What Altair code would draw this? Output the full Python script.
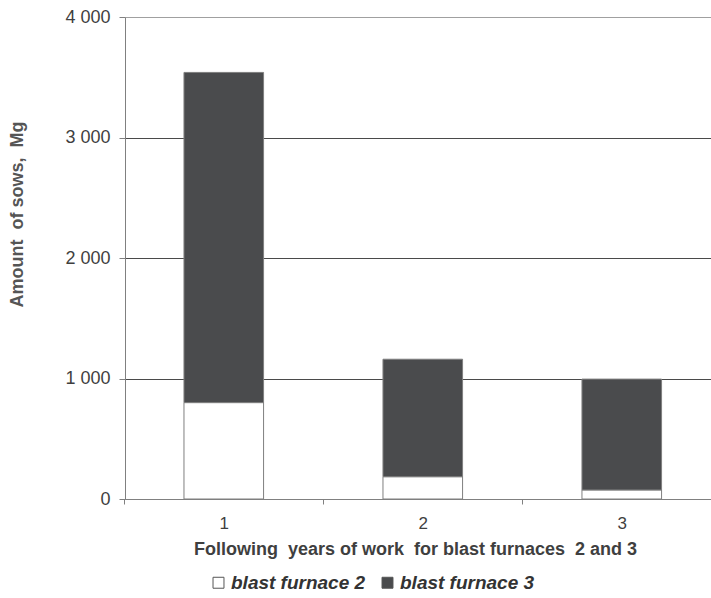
import altair as alt
import pandas as pd

years = ["1", "2", "3"]
series_names = ["blast furnace 2", "blast furnace 3"]
furnace2 = [800, 185, 75]
furnace3 = [2740, 975, 920]

rows = []
for i, y in enumerate(years):
    rows.append({"year": y, "series": series_names[0], "amount": furnace2[i], "ord": 0})
    rows.append({"year": y, "series": series_names[1], "amount": furnace3[i], "ord": 1})
df = pd.DataFrame(rows)

FONT = "Liberation Sans"
TXT = "#3f3f3f"
NB = "\u00a0"

chart = (
    alt.Chart(df)
    .mark_bar(stroke="#7f7f7f", strokeWidth=1)
    .encode(
        x=alt.X(
            "year:N",
            sort=years,
            scale=alt.Scale(paddingInner=0.6, paddingOuter=0.2724, align=0.544),
            axis=alt.Axis(
                title=f"Following {NB}years of work {NB}for blast furnaces {NB}2 and 3",
                labelAngle=0,
                labelFont=FONT,
                labelFontSize=17,
                labelColor=TXT,
                labelPadding=11,
                tickOffset=-99.5,
                labelOffset=99.5,
                tickSize=5,
                tickColor="#808080",
                domainColor="#808080",
                titleFont=FONT,
                titleFontSize=18,
                titleFontWeight="bold",
                titleColor=TXT,
                titlePadding=9,
                titleX=290,
                titleAnchor="middle",
            ),
        ),
        y=alt.Y(
            "amount:Q",
            stack="zero",
            scale=alt.Scale(domain=[0, 4000], nice=False),
            axis=alt.Axis(
                title=f"Amount {NB}of sows, {NB}Mg",
                values=[0, 1000, 2000, 3000, 4000],
                labelExpr="replace(format(datum.value, ','), ',', ' ')",
                labelFont=FONT,
                labelFontSize=18,
                labelColor=TXT,
                labelPadding=9,
                tickSize=6,
                tickColor="#808080",
                domainColor="#808080",
                gridColor={
                    "condition": {"test": "datum.value === 4000", "value": "#a0a0a0"},
                    "value": "#4a4a4a",
                },
                gridWidth=1,
                titleFont=FONT,
                titleFontSize=18,
                titleFontWeight="bold",
                titleColor="#555555",
                titleX=-99,
                titleY=197,
                titleAnchor="middle",
            ),
        ),
        color=alt.Color(
            "series:N",
            sort=series_names,
            scale=alt.Scale(domain=series_names, range=["#ffffff", "#4a4b4d"]),
            legend=alt.Legend(
                title=None,
                orient="none",
                direction="horizontal",
                legendX=84,
                legendY=556,
                symbolType="square",
                symbolSize=120,
                symbolStrokeColor="#555555",
                symbolStrokeWidth=1,
                labelFont=FONT,
                labelFontSize=19,
                labelFontWeight="bold",
                labelFontStyle="italic",
                labelColor="#333333",
                labelOffset=3,
                columnPadding=12,
            ),
        ),
        order=alt.Order("ord:Q"),
    )
    .properties(
        width=586,
        height=482,
        autosize=alt.AutoSizeParams(type="none"),
        padding={"left": 125, "top": 17, "right": 0, "bottom": 99},
    )
    .configure_view(stroke=None)
    .configure(background="white")
)

chart.save("out.html", embed_options={"renderer": "svg", "actions": False})
